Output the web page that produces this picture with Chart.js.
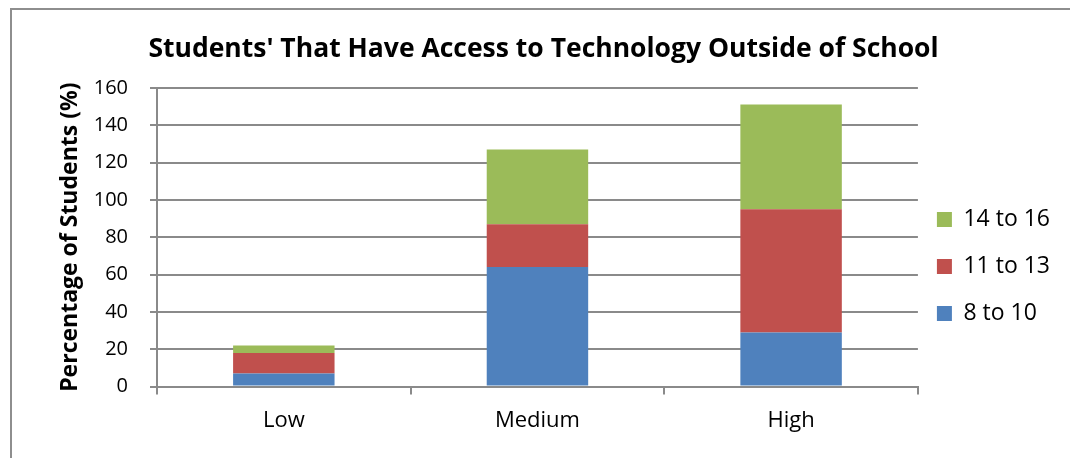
<!DOCTYPE html>
<html>
<head>
<meta charset="utf-8">
<script src="https://cdn.jsdelivr.net/npm/chart.js@4.4.1/dist/chart.umd.min.js"></script>
<style>
    html, body { margin: 0; padding: 0; background: #fff; }
    #wrap { position: relative; width: 1070px; height: 458px; }
    #frame {
        position: absolute; left: 10px; top: 8px; right: 0; bottom: 0;
        border-top: 2px solid #8e8e8e; border-left: 2px solid #8e8e8e;
    }
    canvas { position: absolute; left: 0; top: 0; }
</style>
</head>
<body>
<div id="wrap">
    <div id="frame"></div>
    <canvas id="chart" width="1070" height="458"></canvas>
</div>
<script>
const categories = ['Low', 'Medium', 'High'];
const age8to10 = [7, 64, 29];
const age11to13 = [11, 23, 66];
const age14to16 = [4, 40, 56];
const yTicks = [0, 20, 40, 60, 80, 100, 120, 140, 160];

const FONT = "'Open Sans', sans-serif";
const GRID = '#8a8a8a';

// nudge the legend block so it sits lower and a bit closer to the plot
const legendOffset = {
    id: 'legendOffset',
    afterLayout(chart, args, opts) {
        const lg = chart.legend;
        if (!lg) return;
        lg.top += opts.dy;
        lg.bottom += opts.dy;
        lg.left += opts.dx;
        lg.right += opts.dx;
    }
};

const ctx = document.getElementById('chart').getContext('2d');

new Chart(ctx, {
    type: 'bar',
    data: {
        labels: categories,
        datasets: [
            { label: '8 to 10', data: age8to10, backgroundColor: '#4f81bd' },
            { label: '11 to 13', data: age11to13, backgroundColor: '#c0504d' },
            { label: '14 to 16', data: age14to16, backgroundColor: '#9bbb59' }
        ]
    },
    plugins: [legendOffset],
    options: {
        responsive: false,
        animation: false,
        events: [],
        datasets: {
            bar: { categoryPercentage: 0.4, barPercentage: 1, borderWidth: 0 }
        },
        layout: { padding: { left: 22, top: 14, right: 5, bottom: 11 } },
        plugins: {
            legendOffset: { dx: -5, dy: 36 },
            title: {
                display: true,
                text: "Students' That Have Access to Technology Outside of School",
                color: '#000',
                font: { family: FONT, size: 26.5, weight: 'bold' },
                padding: { top: 20, bottom: 22 }
            },
            legend: {
                position: 'right',
                reverse: true,
                labels: {
                    color: '#000',
                    font: { family: FONT, size: 23 },
                    boxWidth: 15,
                    boxHeight: 15,
                    padding: 24
                }
            },
            tooltip: { enabled: false }
        },
        scales: {
            x: {
                stacked: true,
                grid: {
                    offset: true,
                    drawOnChartArea: false,
                    drawTicks: true,
                    tickLength: 8,
                    color: GRID,
                    lineWidth: 2
                },
                border: { color: GRID, width: 2 },
                ticks: {
                    color: '#000',
                    font: { family: FONT, size: 22 },
                    padding: 13
                }
            },
            y: {
                stacked: true,
                min: 0,
                max: 160,
                afterBuildTicks: axis => {
                    axis.ticks = yTicks.map(v => ({ value: v }));
                },
                afterFit: axis => { axis.width = 135; },
                grid: {
                    color: GRID,
                    lineWidth: 2,
                    tickLength: 7
                },
                border: { color: GRID, width: 2 },
                ticks: {
                    color: '#000',
                    font: { family: FONT, size: 20 },
                    padding: 22
                },
                title: {
                    display: true,
                    text: 'Percentage of Students (%)',
                    color: '#000',
                    font: { family: FONT, size: 23, weight: 'bold' },
                    padding: { top: 35, bottom: 0 }
                }
            }
        }
    }
});
</script>
</body>
</html>
